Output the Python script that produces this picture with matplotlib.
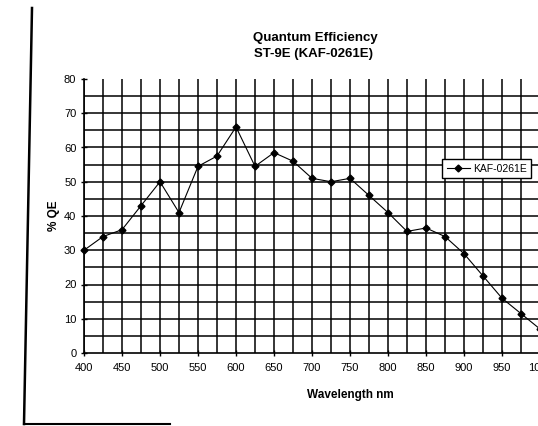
import matplotlib
matplotlib.use("Agg")
import matplotlib.pyplot as plt
from matplotlib.lines import Line2D

# Quantum efficiency of KAF-0261E
wavelength = [400, 425, 450, 475, 500, 525, 550, 575, 600, 625, 650, 675,
              700, 725, 750, 775, 800, 825, 850, 875, 900, 925, 950, 975, 1000]
qe = [30, 34, 36, 43, 50, 41, 54.5, 57.5, 66, 54.5, 58.5, 56,
      51, 50, 51, 46, 41, 35.5, 36.5, 34, 29, 22.5, 16, 11.5, 7]
series_name = "KAF-0261E"
x_ticks = list(range(400, 1101, 50))
y_ticks = list(range(0, 81, 10))

FONT = ["Liberation Sans Narrow", "Liberation Sans", "DejaVu Sans"]
plt.rcParams["font.family"] = FONT

W, H = 538, 426
fig = plt.figure(figsize=(W / 100, H / 100), dpi=100)
fig.patch.set_facecolor("white")

# axes: x=400 at px 84, 0.76 px per nm; y 0..80 from px 353 up to px 79
left = 84 / W
bottom = (H - 353) / H
height = (353 - 79) / H
width = 700 * 0.76 / W
ax = fig.add_axes([left, bottom, width, height])

ax.plot(wavelength, qe, color="black", linewidth=0.8, marker="D",
        markersize=3.5, label=series_name, clip_on=False)

ax.set_xlim(400, 1100)
ax.set_ylim(0, 80)
ax.set_xticks(x_ticks)
ax.set_yticks(y_ticks)
ax.set_xticks(range(425, 1100, 50), minor=True)
ax.set_yticks(range(5, 80, 10), minor=True)

ax.grid(True, which="both", color="black", linewidth=1.1)
ax.get_ygridlines()[-1].set_visible(False)
ax.get_ygridlines()[0].set_visible(False)
ax.set_axisbelow(True)

for s in ["top", "right"]:
    ax.spines[s].set_visible(False)
for s in ["left", "bottom"]:
    ax.spines[s].set_linewidth(1.2)

ax.tick_params(axis="both", which="major", labelsize=8, length=5, width=1,
               direction="inout", pad=3)
ax.tick_params(axis="both", which="minor", length=0)
ax.tick_params(axis="x", pad=5)

ax.set_xlabel("Wavelength nm", fontsize=8.5, fontweight="bold", labelpad=11)
ax.set_ylabel("% QE", fontsize=8.5, fontweight="bold", labelpad=3)

fig.text(315 / W, 1 - 38 / H, "Quantum Efficiency", ha="center", va="center",
         fontsize=9.5, fontweight="bold")
fig.text(314 / W, 1 - 54 / H, "ST-9E (KAF-0261E)", ha="center", va="center",
         fontsize=9.5, fontweight="bold")

leg = ax.legend(loc="upper left", bbox_to_anchor=((442 - 84) / (W * width), (353 - 159) / (353 - 79)),
                fontsize=7.5, frameon=True, fancybox=False, borderpad=0.45,
                handlelength=2.2, handletextpad=0.3, borderaxespad=0)
leg.get_frame().set_edgecolor("black")
leg.get_frame().set_linewidth(1)
leg.get_frame().set_facecolor("white")
leg.get_frame().set_alpha(1)

# scanned page border
fig.add_artist(Line2D([32 / W, 24 / W], [1 - 8 / H, 1 - 424 / H], color="black", linewidth=1.8))
fig.add_artist(Line2D([24 / W, 170 / W], [1 - 424 / H, 1 - 424 / H], color="black", linewidth=1.5))

fig.savefig("out.png", dpi=100)
